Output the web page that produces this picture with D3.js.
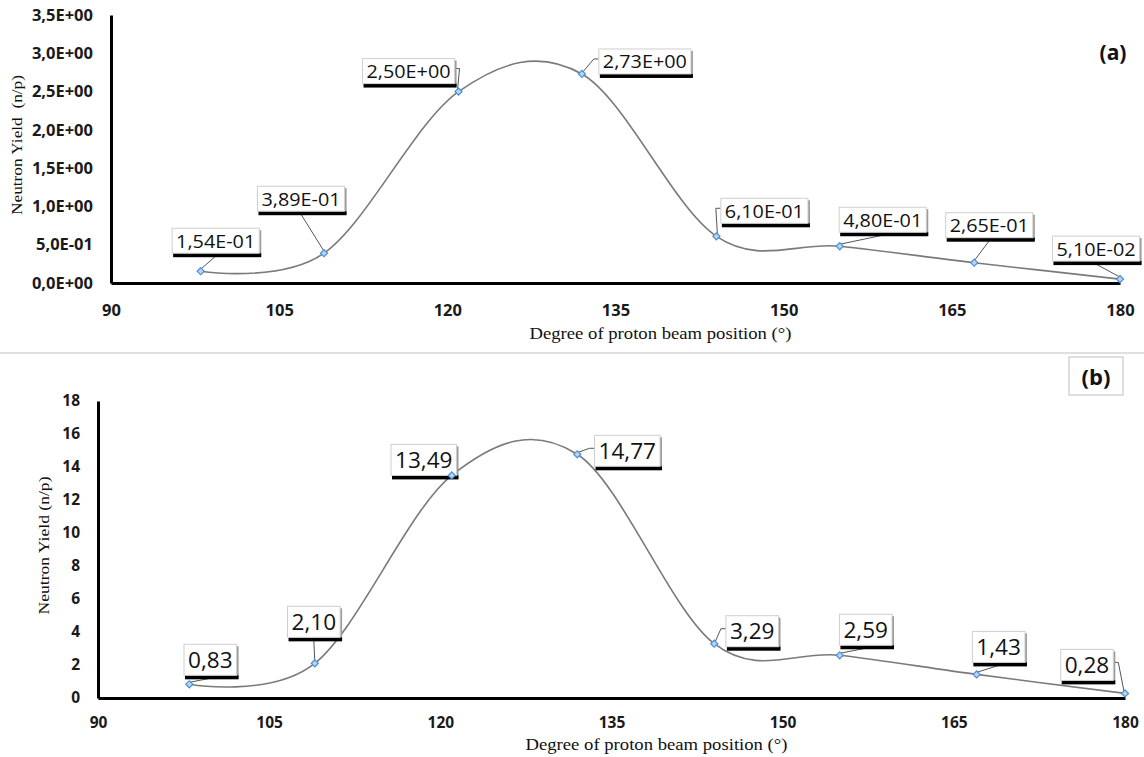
<!DOCTYPE html>
<html>
<head>
<meta charset="utf-8">
<script src="https://cdn.jsdelivr.net/npm/d3@7"></script>
<style>
  html, body { margin: 0; padding: 0; background: #fff; }
  svg { display: block; }
</style>
</head>
<body>
<svg id="chart" width="1144" height="757"></svg>
<script>
// ---------------- DATA ----------------
const degrees = [98, 109, 121, 132, 144, 155, 167, 180];
const yieldA = [0.154, 0.389, 2.50, 2.73, 0.610, 0.480, 0.265, 0.051];
const yieldB = [0.83, 2.10, 13.49, 14.77, 3.29, 2.59, 1.43, 0.28];
const xTicks = [90, 105, 120, 135, 150, 165, 180];
const yTicksA = [0, 0.5, 1.0, 1.5, 2.0, 2.5, 3.0, 3.5];
const yTicksB = [0, 2, 4, 6, 8, 10, 12, 14, 16, 18];
const xTitle = "Degree of proton beam position (°)";
const yTitleA = "Neutron Yield  (n/p)";
const yTitleB = "Neutron Yield (n/p)";

// ---------------- FORMATTERS ----------------
function sciComma(v, digits) {
  const s = v.toExponential(digits);            // e.g. 1.54e-1
  const [m, e] = s.split("e");
  const sign = e[0] === "-" ? "-" : "+";
  const ex = Math.abs(parseInt(e, 10)).toString().padStart(2, "0");
  return m.replace(".", ",") + "E" + sign + ex;
}
const fmtA = v => sciComma(v, 2);
const fmtTickA = v => sciComma(v, 1);
const fmtB = v => v.toFixed(2).replace(".", ",");

// ---------------- LAYOUT (positions / styles) ----------------
const panelA = {
  xRange: [111, 1120], yRange: [283, 15], yDomain: [0, 3.5],
  values: yieldA, yTicks: yTicksA, tickFmt: fmtTickA, labelFmt: fmtA,
  tickFont: 16.5, xPad: 21, yPad: 18, labelFont: 18, labelStretch: 1.1, boxH: 26,
  xTitleY: 339, yTitle: yTitleA, yTitleX: 17, yTitleLen: 140, yTitleFont: 14,
  // label box centre offsets relative to each point (pixels)
  labelOffsets: [[15,-30],[-23,-54],[-50,-20],[63,-12],[48,-25],[43,-26],[15,-37],[-24,-30]]
};
const panelB = {
  xRange: [98, 1125], yRange: [698, 401], yDomain: [0, 18],
  values: yieldB, yTicks: yTicksB, tickFmt: d => d, labelFmt: fmtB,
  tickFont: 15.5, xPad: 19, yPad: 18, labelFont: 21.5, labelStretch: 1.05, boxH: 32,
  xTitleY: 750, yTitle: yTitleB, yTitleX: 44, yTitleLen: 138, yTitleFont: 15,
  labelOffsets: [[21,-24],[-1,-41],[-28,-15],[50,-3],[38,-12],[26,-25],[22,-27],[-38,-28]]
};

const svg = d3.select("#chart");
const sansFont = "'Open Sans', Lato, 'DejaVu Sans', sans-serif";
const serifFont = "'Liberation Serif', 'DejaVu Serif', serif";

// divider between panels
svg.append("line").attr("x1", 0).attr("x2", 1144).attr("y1", 353).attr("y2", 353)
  .attr("stroke", "#d4d4d4").attr("stroke-width", 1.5);

function drawPanel(p) {
  const g = svg.append("g");
  const x = d3.scaleLinear().domain([90, 180]).range(p.xRange);
  const y = d3.scaleLinear().domain(p.yDomain).range(p.yRange);

  // axes
  const xAxis = d3.axisBottom(x).tickValues(xTicks).tickSize(0).tickSizeOuter(0).tickPadding(p.xPad);
  const yAxis = d3.axisLeft(y).tickValues(p.yTicks).tickFormat(p.tickFmt).tickSize(0).tickSizeOuter(0).tickPadding(p.yPad);

  const gx = g.append("g").attr("transform", `translate(0,${p.yRange[0]})`).call(xAxis);
  const gy = g.append("g").attr("transform", `translate(${p.xRange[0]},0)`).call(yAxis);
  [gx, gy].forEach(a => {
    a.select(".domain").attr("stroke", "#000").attr("stroke-width", 3);
    a.selectAll("text").attr("font-family", sansFont).attr("font-weight", 700)
      .attr("font-size", p.tickFont).attr("fill", "#1a1a1a");
  });

  // axis titles
  g.append("text").attr("x", (p.xRange[0] + p.xRange[1]) / 2 + 45).attr("y", p.xTitleY)
    .attr("text-anchor", "middle").attr("font-family", serifFont).attr("font-size", 17.5)
    .attr("fill", "#111").attr("textLength", 262).attr("lengthAdjust", "spacingAndGlyphs")
    .text(xTitle);
  const yMid = (p.yRange[0] + p.yRange[1]) / 2;
  g.append("text").attr("transform", `translate(${p.yTitleX},${yMid - 4}) rotate(-90)`)
    .attr("text-anchor", "middle").attr("dy", "0.35em").attr("font-family", serifFont)
    .attr("font-size", p.yTitleFont).attr("fill", "#111").style("white-space", "pre")
    .attr("textLength", p.yTitleLen).attr("lengthAdjust", "spacingAndGlyphs")
    .text(p.yTitle);

  // smoothed line
  const pts = degrees.map((d, i) => [x(d), y(p.values[i])]);
  const line = d3.line().curve(d3.curveCardinal.tension(0));
  g.append("path").attr("d", line(pts)).attr("fill", "none")
    .attr("stroke", "#7a7a7a").attr("stroke-width", 1.6);

  // data labels with leader lines
  const lg = g.append("g");
  pts.forEach((pt, i) => {
    const [px, py] = pt;
    const [dx, dy] = p.labelOffsets[i];
    const cx = px + dx, cy = py + dy;
    const lab = lg.append("g");
    const t = lab.append("text").attr("x", cx).attr("y", cy).attr("dy", "0.36em")
      .attr("text-anchor", "middle").attr("font-family", sansFont)
      .attr("font-size", p.labelFont).attr("fill", "#111").text(p.labelFmt(p.values[i]));
    const tw0 = t.node().getComputedTextLength();
    const tw = tw0 * p.labelStretch;
    t.attr("textLength", tw).attr("lengthAdjust", "spacingAndGlyphs");
    const bw = tw + 8, bh = p.boxH;
    const x0 = cx - bw / 2, y0 = cy - bh / 2, x1 = x0 + bw, y1 = y0 + bh;

    // leader line
    let path = null;
    if (px < x0 - 1) {
      path = `M${x0},${cy - 3}H${x0 - 5}L${px + 1},${py - 2}`;
    } else if (px > x1 + 1) {
      path = `M${x1},${cy - 3}H${x1 + 5}L${px - 1},${py - 2}`;
    } else if (py > y1 + 6) {
      path = `M${cx},${y1 + 2}L${px},${py - 2}`;
    }
    if (path) {
      lg.insert("path", ":first-child").attr("d", path).attr("fill", "none")
        .attr("stroke", "#555").attr("stroke-width", 1);
    }

    // box: right grey shadow, bottom black shadow, white body
    lab.insert("rect", "text").attr("x", x1).attr("y", y0 + 2).attr("width", 2).attr("height", bh)
      .attr("fill", "#9a9a9a");
    lab.insert("rect", "text").attr("x", x0 + 1).attr("y", y1 - 1).attr("width", bw + 1).attr("height", 4)
      .attr("fill", "#000");
    lab.insert("rect", "text").attr("x", x0).attr("y", y0).attr("width", bw).attr("height", bh - 1)
      .attr("fill", "#fff").attr("stroke", "#cfcfcf").attr("stroke-width", 1);
  });

  // markers
  g.selectAll(".mk").data(pts).enter().append("rect")
    .attr("width", 5).attr("height", 5)
    .attr("transform", d => `translate(${d[0]},${d[1]}) rotate(45) translate(-2.5,-2.5)`)
    .attr("fill", "#b9d3ef").attr("stroke", "#4a8fd6").attr("stroke-width", 1.2);
}

drawPanel(panelA);
drawPanel(panelB);

// panel tags
svg.append("text").attr("x", 1113).attr("y", 53).attr("dy", "0.35em").attr("text-anchor", "middle")
  .attr("font-family", sansFont).attr("font-weight", 700).attr("font-size", 21).attr("fill", "#111").text("(a)");
svg.append("rect").attr("x", 1069).attr("y", 357).attr("width", 54).attr("height", 38)
  .attr("fill", "#fff").attr("stroke", "#bdbdbd").attr("stroke-width", 1);
svg.append("text").attr("x", 1096).attr("y", 377).attr("dy", "0.35em").attr("text-anchor", "middle")
  .attr("font-family", sansFont).attr("font-weight", 700).attr("font-size", 22).attr("fill", "#111").text("(b)");
</script>
</body>
</html>
